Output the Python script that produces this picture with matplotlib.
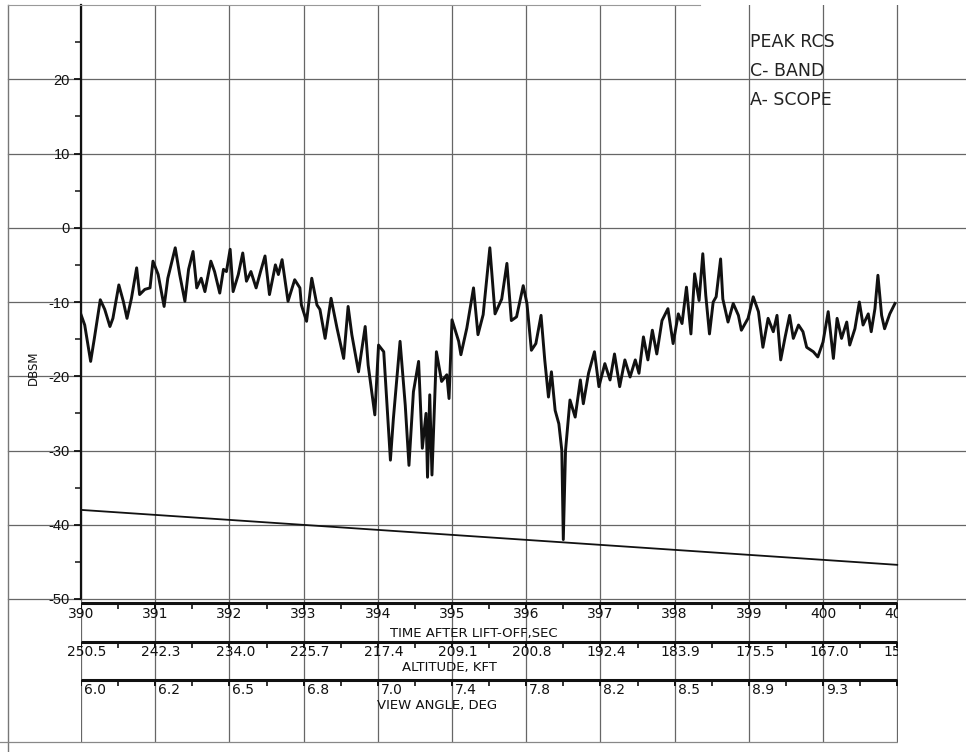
import matplotlib
matplotlib.use("Agg")
import matplotlib.pyplot as plt
from matplotlib.lines import Line2D
from matplotlib.patches import Rectangle

# ---------------- data ----------------
time_s = [
    390.00, 390.05, 390.13, 390.18, 390.26, 390.32, 390.39, 390.43, 390.51, 390.57,
    390.62, 390.68, 390.75, 390.79, 390.86, 390.93, 390.97, 391.04, 391.12, 391.17,
    391.27, 391.33, 391.40, 391.45, 391.51, 391.56, 391.62, 391.67, 391.75, 391.80,
    391.87, 391.92, 391.96, 392.01, 392.05, 392.12, 392.18, 392.23, 392.29, 392.36,
    392.42, 392.48, 392.54, 392.62, 392.66, 392.71, 392.79, 392.88, 392.95, 392.97,
    393.04, 393.11, 393.18, 393.22, 393.29, 393.37, 393.45, 393.54, 393.60, 393.65,
    393.74, 393.83, 393.87, 393.96, 394.01, 394.08, 394.17, 394.21, 394.30, 394.37,
    394.42, 394.48, 394.55, 394.60, 394.65, 394.67, 394.70, 394.73, 394.79, 394.86,
    394.93, 394.96, 395.00, 395.09, 395.12, 395.20, 395.29, 395.35, 395.42, 395.51,
    395.58, 395.67, 395.74, 395.80, 395.87, 395.96, 396.01, 396.07, 396.13, 396.20,
    396.25, 396.30, 396.34, 396.39, 396.44, 396.48, 396.50, 396.53, 396.59, 396.66,
    396.73, 396.77, 396.84, 396.92, 396.98, 397.06, 397.13, 397.19, 397.26, 397.33,
    397.40, 397.47, 397.52, 397.58, 397.64, 397.70, 397.76, 397.83, 397.91, 397.98,
    398.05, 398.10, 398.16, 398.22, 398.27, 398.33, 398.38, 398.42, 398.47, 398.52,
    398.56, 398.62, 398.65, 398.72, 398.79, 398.86, 398.90, 398.99, 399.06, 399.13,
    399.19, 399.26, 399.33, 399.38, 399.43, 399.49, 399.55, 399.60, 399.67, 399.73,
    399.78, 399.87, 399.93, 400.00, 400.07, 400.14, 400.19, 400.25, 400.32, 400.36,
    400.43, 400.49, 400.54, 400.61, 400.65, 400.70, 400.74, 400.79, 400.83, 400.90,
    400.97,
]
rcs_dbsm = [
    -11.7, -13.1, -18.0, -14.9, -9.7, -11.0, -13.3, -12.2, -7.7, -9.9,
    -12.2, -9.5, -5.4, -9.0, -8.3, -8.1, -4.5, -6.3, -10.6, -6.8,
    -2.7, -6.3, -9.9, -5.6, -3.2, -8.1, -6.8, -8.6, -4.5, -5.9,
    -8.8, -5.6, -5.9, -2.9, -8.6, -6.3, -3.4, -7.2, -5.9, -8.1,
    -5.9, -3.8, -9.0, -5.0, -6.3, -4.3, -9.9, -7.0, -8.1, -10.4,
    -12.6, -6.8, -10.4, -11.0, -14.9, -9.5, -13.5, -17.6, -10.6, -14.4,
    -19.4, -13.3, -18.5, -25.2, -15.8, -16.7, -31.3, -25.7, -15.3, -23.9,
    -32.0, -22.1, -18.0, -29.7, -25.0, -33.6, -22.5, -33.3, -16.7, -20.7,
    -19.8, -23.0, -12.4, -15.3, -17.1, -13.5, -8.1, -14.4, -11.7, -2.7,
    -11.6, -9.6, -4.8, -12.5, -12.0, -7.8, -10.2, -16.5, -15.6, -11.8,
    -17.8, -22.8, -19.4, -24.6, -26.4, -30.0, -42.0, -30.0, -23.2, -25.5,
    -20.5, -23.7, -19.6, -16.7, -21.4, -18.3, -20.5, -17.0, -21.4, -17.8,
    -20.1, -17.8, -19.6, -14.7, -17.8, -13.8, -17.0, -12.5, -10.9, -15.6,
    -11.6, -12.9, -8.0, -14.3, -6.2, -9.8, -3.5, -9.1, -14.3, -10.0,
    -9.3, -4.2, -9.6, -12.7, -10.2, -11.8, -13.8, -12.2, -9.3, -11.3,
    -16.1, -12.2, -14.0, -11.8, -17.8, -14.7, -11.8, -14.9, -13.1, -14.0,
    -16.1, -16.7, -17.4, -15.4, -11.3, -17.6, -12.2, -14.9, -12.7, -15.8,
    -13.6, -10.0, -13.1, -11.6, -14.0, -10.9, -6.4, -11.8, -13.6, -11.6,
    -10.2,
]
floor_t = [390.0, 401.0]
floor_dbsm = [-38.0, -45.4]

y_ticks = [20, 10, 0, -10, -20, -30, -40, -50]
y_labels = ["20", "10", "0", "-10", "-20", "-30", "-40", "-50"]
y_minor = [25, 15, 5, -5, -15, -25, -35, -45]
time_ticks = [390, 391, 392, 393, 394, 395, 396, 397, 398, 399, 400, 401]
time_labels = ["390", "391", "392", "393", "394", "395", "396", "397",
               "398", "399", "400", "401"]
alt_labels = ["250.5", "242.3", "234.0", "225.7", "217.4", "209.1", "200.8",
              "192.4", "183.9", "175.5", "167.0", "158.6"]
angle_labels = ["6.0", "6.2", "6.5", "6.8", "7.0", "7.4", "7.8", "8.2",
                "8.5", "8.9", "9.3"]
legend_lines = ["PEAK RCS", "C- BAND", "A- SCOPE"]

# ---------------- layout ----------------
W, H = 966, 752
PX_PER_S = 74.2
X0, Y_TOP, Y_BOT = 81, 5, 599
XMAX = 390 + (W - X0) / PX_PER_S

fig = plt.figure(figsize=(W / 100, H / 100), dpi=100)
fig.patch.set_facecolor("white")
narrow = ["Liberation Sans Narrow", "DejaVu Sans"]
GRID = "#666666"
INK = "#111111"

ax = fig.add_axes([X0 / W, (H - Y_BOT) / H, (W - X0) / W, (Y_BOT - Y_TOP) / H])
ax.set_xlim(390, XMAX)
ax.set_ylim(-50, 30)
for s in ("top", "right", "bottom"):
    ax.spines[s].set_visible(False)
ax.spines["left"].set_linewidth(1.6)
ax.spines["left"].set_color(INK)
ax.set_xticks([])
ax.set_yticks(y_ticks, y_labels)
ax.set_yticks(y_minor, minor=True)
ax.tick_params(axis="y", which="major", direction="out", length=5, width=1.3,
               labelsize=10.5, pad=3, colors=INK)
ax.tick_params(axis="y", which="minor", direction="out", length=4, width=1.1,
               colors=INK)
for lab in ax.get_yticklabels():
    lab.set_family(["Liberation Sans", "DejaVu Sans"])

for yt in y_ticks:
    ax.axhline(yt, xmin=(8 - X0) / (W - X0), xmax=1, color=GRID, lw=0.9,
               clip_on=False, zorder=0)
for t in time_ticks:
    ax.axvline(t, color=GRID, lw=0.9, zorder=0)

ax.plot(time_s, rcs_dbsm, color=INK, lw=2.1, zorder=3)
ax.plot(floor_t, floor_dbsm, color=INK, lw=1.3, zorder=3)

# ---------------- bottom scales ----------------
ax2 = fig.add_axes([X0 / W, 0, (W - X0) / W, (H - Y_BOT) / H])
ax2.set_xlim(390, XMAX)
ax2.set_ylim(H, Y_BOT)
ax2.axis("off")

ax2.vlines(time_ticks, Y_BOT, 742, color=GRID, lw=0.9, zorder=0)
halves = [t + 0.5 for t in time_ticks[:-1]]
for ry in (603, 642, 680):
    ax2.hlines(ry, time_ticks[0], time_ticks[-1], color=INK, lw=2.2)
    ax2.vlines(halves, ry, ry + 6, color=INK, lw=1.2)
    ax2.vlines(time_ticks, ry, ry + 6, color=INK, lw=1.4)

for t, lab in zip(time_ticks, time_labels):
    ax2.text(t, 614, lab, ha="center", va="center", fontsize=10,
             family=narrow, color=INK)
for t, lab in zip(time_ticks, alt_labels):
    ax2.text(t + 0.08, 652, lab, ha="center", va="center", fontsize=10,
             family=narrow, color=INK)
for t, lab in zip(time_ticks, angle_labels):
    ax2.text(t + 0.04, 690, lab, ha="left", va="center", fontsize=10,
             family=narrow, color=INK)

ax2.text(395.3, 633, "TIME AFTER LIFT-OFF,SEC", ha="center", va="center",
         fontsize=9.5, family=narrow, color=INK)
ax2.text(394.97, 667, "ALTITUDE, KFT", ha="center", va="center",
         fontsize=9.5, family=narrow, color=INK)
ax2.text(394.8, 706, "VIEW ANGLE, DEG", ha="center", va="center",
         fontsize=9.5, family=narrow, color=INK)

# scan/page edges
fig.add_artist(Rectangle((898 / W, 0), (W - 898) / W, (H - 601) / H,
                         transform=fig.transFigure, facecolor="white",
                         edgecolor="none", zorder=5))
fig.add_artist(Line2D([8 / W, 8 / W], [0, 1 - 5 / H], transform=fig.transFigure,
                      color="#777777", lw=1.0))
fig.add_artist(Line2D([8 / W, 700 / W], [1 - 5 / H, 1 - 5 / H],
                      transform=fig.transFigure, color="#999999", lw=0.8))
fig.add_artist(Line2D([0, 897 / W], [1 - 742 / H, 1 - 742 / H],
                      transform=fig.transFigure, color="#888888", lw=0.9))

fig.text(33 / W, 1 - 368 / H, "DBSM", rotation=90, ha="center", va="center",
         fontsize=8.5, color=INK)

for i, txt in enumerate(legend_lines):
    fig.text(750 / W, 1 - (42 + 29 * i) / H, txt, ha="left", va="center",
             fontsize=12.5, color="#222222")

fig.savefig("out.png", dpi=100, facecolor="white")
